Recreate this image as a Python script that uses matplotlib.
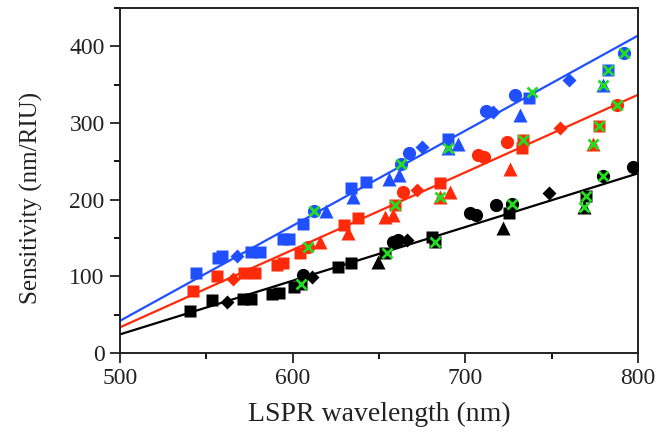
import matplotlib
matplotlib.use("Agg")
import matplotlib.pyplot as plt
from matplotlib.ticker import MultipleLocator
import numpy as np

plt.rcParams['font.family'] = ['Liberation Serif', 'DejaVu Serif']

# --- data (wavelength nm, sensitivity nm/RIU) ---
blue_sq_x = [544, 557, 559, 576, 581, 594.6, 598, 606, 633.5, 642.6, 690, 737, 782.7]
blue_sq_y = [105, 124, 127, 132, 132, 149, 149, 168, 215, 223, 279, 332, 369]
blue_di_x = [567.5, 674.7, 716, 760]
blue_di_y = [127, 269, 314.5, 356]
blue_ci_x = [612.5, 663, 667.5, 712, 728.7, 791.8]
blue_ci_y = [185, 247, 261, 316, 336, 391]
blue_tr_x = [619.5, 635, 656, 661.5, 690, 696, 731.6, 780]
blue_tr_y = [185, 204, 227, 232, 267, 272, 310, 349]
blue_x_x = [612.5, 663, 690, 738.4, 782.7, 780, 791.8]
blue_x_y = [185, 247, 267, 340, 369, 349, 391]

red_sq_x = [542, 556, 572, 578, 590.7, 594.6, 604, 630, 638, 659, 685.6, 732.6, 733.6, 777.6]
red_sq_y = [81, 100, 104, 104, 115, 118, 130, 167, 175.5, 193, 222, 267, 277.5, 296]
red_di_x = [565.6, 671.8, 755]
red_di_y = [97, 213, 293]
red_ci_x = [609, 664, 707.5, 711, 724, 787.6]
red_ci_y = [138.5, 210, 258, 256, 275, 323]
red_tr_x = [615.8, 632, 653.4, 658, 685.3, 691, 725.8, 774]
red_tr_y = [145, 157, 177.6, 180, 203.7, 210, 240.6, 272]
red_x_x = [609, 659, 685.3, 733.6, 777.6, 774, 787.6]
red_x_y = [138.5, 193, 203.7, 277.5, 296, 272, 323]

blk_sq_x = [540.5, 553, 571.4, 576, 588, 592, 601, 605, 626, 634, 653.4, 680.5, 682.6, 725.4, 770]
blk_sq_y = [55, 69, 70, 70, 76.5, 77.7, 86.4, 90, 112.5, 117.7, 130.7, 151, 145, 182, 204.6]
blk_di_x = [562, 611, 666.5, 748.4]
blk_di_y = [66, 99.4, 147, 209]
blk_ci_x = [606, 658, 661, 702.7, 706, 718, 726.8, 780, 797]
blk_ci_y = [101.6, 145, 147, 182, 180, 193, 194, 230.6, 242]
blk_tr_x = [649.6, 722, 769]
blk_tr_y = [119, 162.5, 190.6]
blk_x_x = [605, 654.4, 682.6, 726.8, 770, 769, 780]
blk_x_y = [90, 130.7, 145, 194, 204.6, 190.6, 230.6]

# fitted lines: (intercept at 500 nm, slope per nm)
fit_blue = (42, 1.24)
fit_red = (33.5, 1.011)
fit_blk = (24.3, 0.70)

BLUE = '#1f4fff'
RED = '#ff2a0a'
BLACK = '#000000'
GREEN = '#22dd22'

fig = plt.figure(figsize=(6.56, 4.43), dpi=100)
ax = fig.add_axes([120/656, 90/443, 518/656, 345/443])

line_x = np.array([500, 800])
for (b, m), c in [(fit_blue, BLUE), (fit_red, RED), (fit_blk, BLACK)]:
    ax.plot(line_x, b + m * (line_x - 500), color=c, lw=1.6, zorder=2)

groups = [
    (BLUE, blue_sq_x, blue_sq_y, blue_di_x, blue_di_y, blue_ci_x, blue_ci_y, blue_tr_x, blue_tr_y, blue_x_x, blue_x_y),
    (RED, red_sq_x, red_sq_y, red_di_x, red_di_y, red_ci_x, red_ci_y, red_tr_x, red_tr_y, red_x_x, red_x_y),
    (BLACK, blk_sq_x, blk_sq_y, blk_di_x, blk_di_y, blk_ci_x, blk_ci_y, blk_tr_x, blk_tr_y, blk_x_x, blk_x_y),
]
for c, sx, sy, dx, dy, cx, cy, tx, ty, xx, xy in groups:
    ax.plot(sx, sy, 's', color=c, ms=8, mec='none', zorder=3)
    ax.plot(dx, dy, 'D', color=c, ms=7.5, mec='none', zorder=3)
    ax.plot(cx, cy, 'o', color=c, ms=9.5, mec='none', zorder=3)
    ax.plot(tx, ty, '^', color=c, ms=9.5, mec='none', zorder=3)
    ax.plot(xx, xy, 'x', color=GREEN, ms=7.5, mew=2, zorder=4)

ax.set_xlim(500, 800)
ax.set_ylim(0, 450)
ax.xaxis.set_major_locator(MultipleLocator(100))
ax.xaxis.set_minor_locator(MultipleLocator(50))
ax.yaxis.set_major_locator(MultipleLocator(100))
ax.yaxis.set_minor_locator(MultipleLocator(50))
ax.set_yticks([0, 100, 200, 300, 400])
ax.tick_params(which='major', direction='out', length=7, width=1.3, labelsize=17, pad=4, colors='#222222')
ax.tick_params(which='minor', direction='out', length=4, width=1.3)
for s in ax.spines.values():
    s.set_linewidth(1.4)
    s.set_color('#222222')

ax.set_xlabel('LSPR wavelength (nm)', fontsize=20, labelpad=9, color='#222222')
ax.set_ylabel('Sensitivity (nm/RIU)', fontsize=18, labelpad=8, color='#222222')
ax.yaxis.set_label_coords(-0.148, 0.45)

fig.savefig('out.png', dpi=100)
